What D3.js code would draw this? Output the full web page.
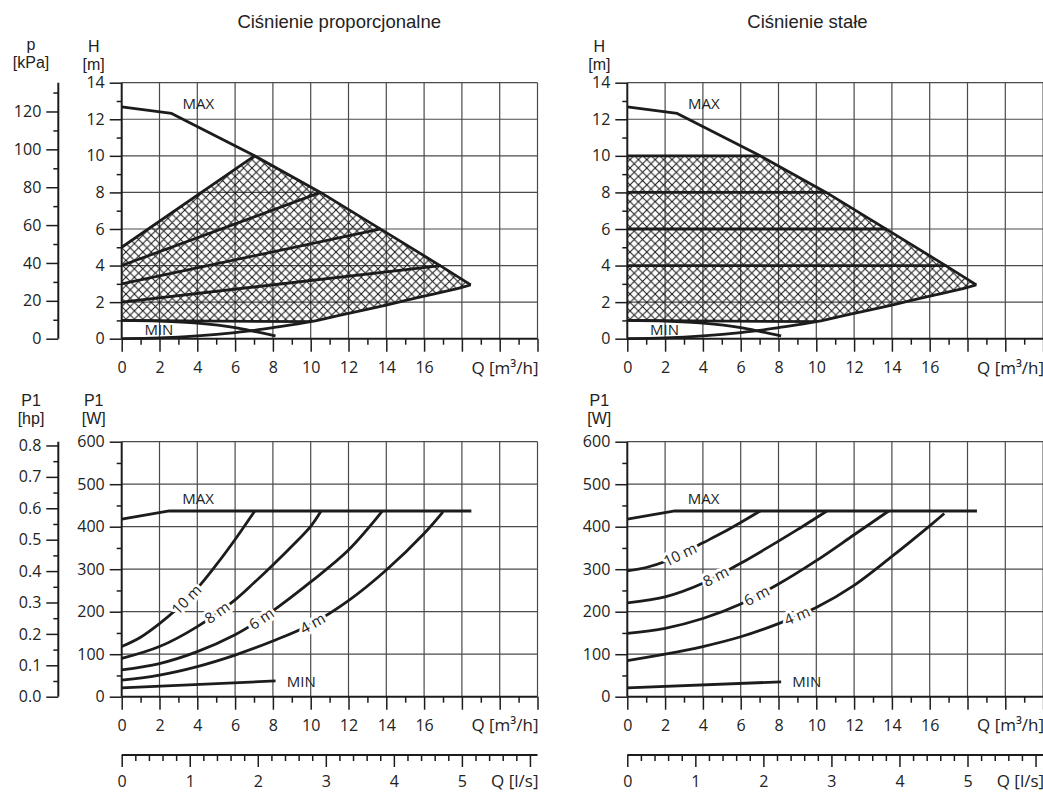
<!DOCTYPE html>
<html><head><meta charset="utf-8">
<script src="https://cdn.jsdelivr.net/npm/d3@7"></script>
<style>
body{margin:0;background:#fff;}
svg{display:block;}
</style></head><body>
<svg id="c" width="1043" height="792"></svg>
<script>
// ---------------- data ----------------
const titles = ["Ciśnienie proporcjonalne", "Ciśnienie stałe"];
const qMax = 22, hMax = 14, pMax = 600, kPaMax = 135.2, hpMax = 0.812, m3hPerLs = 3.6;
const qTicks = [0, 2, 4, 6, 8, 10, 12, 14, 16, 18, 20, 22];
const qLabelMax = 16;
const hTicks = [0, 2, 4, 6, 8, 10, 12, 14];
const pTicks = [0, 100, 200, 300, 400, 500, 600];
const kPaTicks = [0, 20, 40, 60, 80, 100, 120];
const hpTicks = [0, 0.1, 0.2, 0.3, 0.4, 0.5, 0.6, 0.7, 0.8];
const lsTicks = [0, 1, 2, 3, 4, 5, 6];
const lsLabelMax = 5;

const maxH = [[0,12.68],[2.64,12.32],[7.03,10.0],[10.52,8.0],[13.72,5.98],[16.89,3.97],[18.47,2.94]];
const systemH = [[0,0],[2,0.04],[4,0.15],[6,0.33],[7,0.45],[8,0.6],[10,0.93],[12,1.39],[14,1.84],[16,2.33],[18,2.81],[18.47,2.94]];
const minH = [[0,1.0],[2,0.96],[4,0.85],[6,0.6],[7,0.4],[8.14,0.15]];
const floorH = [[0,1.0],[10,0.93]];
const propLines = [[[0,5],[7.03,10]], [[0,4],[10.52,8]], [[0,3],[13.72,6]], [[0,2],[16.89,4]]];
const constLines = [[[0,10],[7.03,10]], [[0,8],[10.52,8]], [[0,6],[13.72,6]], [[0,4],[16.89,4]]];

const maxP = [[0,418],[2.52,437],[18.5,437]];
const minPprop = [[0,21],[8.14,37]];
const minPconst = [[0,21],[8.14,35]];
const curveNames = ["10 m", "8 m", "6 m", "4 m"];
const propP = [
  [[0,118],[1,140],[2,172],[3,210],[4,255],[5,310],[6,370],[7.04,437]],
  [[0,90],[2,118],[4,165],[6,228],[7,268],[8,310],[9,354],[10,401],[10.55,437]],
  [[0,63],[2,78],[4,106],[6,146],[7,172],[8,202],[10,270],[12,345],[13.8,437]],
  [[0,39],[2,51],[4,71],[6,98],[8,131],[10,170],[12,226],[14,298],[16,384],[17,435]]
];
const constP = [
  [[0,296],[1,304],[2,318],[3,339],[4,362],[5,385],[6,410],[7.03,437]],
  [[0,221],[2,235],[4,267],[6,314],[8,366],[9,393],[10.56,437]],
  [[0,149],[2,161],[4,184],[6,218],[8,265],[10,320],[12,381],[13.83,437]],
  [[0,85],[2,100],[4,118],[6,141],[8,172],[10,210],[12,262],[14,330],[16,402],[16.77,431]]
];
const propLabelQ = [3.42, 5.05, 7.39, 10.1];
const constLabelQ = [2.79, 4.68, 6.84, 8.98];
const maxLabelH = [4.05, 12.87], minLabelH = [1.97, 0.48];
const maxLabelP = [4.04, 467], minLabelP = [9.5, 35];

// ---------------- layout ----------------
const FONT = "'Open Sans', 'Noto Sans', sans-serif";
const UNIT_FONT = "'Liberation Sans', Arial, sans-serif";
const INK = "#1c1c1c";
const X0 = [121.7, 627.3], QPX = 18.9;
const TOP = {y0: 338.7, y1: 82.7}, BOT = {y0: 696.7, y1: 441.7};
const LS_Y = 755, SIDE_X = 58.3;

const svg = d3.select("#c");
svg.append("rect").attr("width", 1043).attr("height", 792).attr("fill", "#fff");

const defs = svg.append("defs");
const pat = defs.append("pattern").attr("id", "hatch").attr("patternUnits", "userSpaceOnUse")
  .attr("width", 8.4).attr("height", 8.4);
pat.append("path").attr("d", "M-1,-1L9.4,9.4M9.4,-1L-1,9.4")
  .attr("stroke", "#151515").attr("stroke-width", 1.0).attr("fill", "none");

function styleAxis(g, lw) {
  g.attr("font-family", FONT).attr("font-size", 16);
  g.select(".domain").remove();
  g.selectAll(".tick line").attr("stroke", INK).attr("stroke-width", lw || 1.5);
  g.selectAll(".tick text").attr("fill", "#222");
}

function interp(pts, q) {
  for (let i = 0; i < pts.length - 1; i++) {
    if (q >= pts[i][0] && q <= pts[i+1][0]) {
      const t = (q - pts[i][0]) / (pts[i+1][0] - pts[i][0]);
      return pts[i][1] + t * (pts[i+1][1] - pts[i][1]);
    }
  }
  return pts[pts.length - 1][1];
}

function drawFrame(g, x, y, yTicksMajor, xy0, xy1) {
  const grid = g.append("g").attr("stroke", "#4a4a4a").attr("stroke-width", 1.2);
  d3.range(2, qMax + 1, 2).forEach(q => {
    grid.append("line").attr("x1", x(q)).attr("x2", x(q)).attr("y1", xy0).attr("y2", xy1);
  });
  yTicksMajor.filter(v => v > 0).forEach(v => {
    grid.append("line").attr("x1", x(0)).attr("x2", x(qMax)).attr("y1", y(v)).attr("y2", y(v));
  });
}

function drawAxes(g, x, y, yTicksMajor, yMinor, y0, labelBase) {
  const gl = g.append("g").attr("transform", `translate(${x(0)},0)`)
    .call(d3.axisLeft(y).tickValues(yTicksMajor).tickSize(12).tickPadding(5));
  styleAxis(gl);
  const glm = g.append("g").attr("transform", `translate(${x(0)},0)`)
    .call(d3.axisLeft(y).tickValues(yMinor).tickSize(5).tickFormat(""));
  styleAxis(glm);
  const gb = g.append("g").attr("transform", `translate(0,${y0})`)
    .call(d3.axisBottom(x).tickValues(qTicks).tickSize(13).tickPadding(10)
      .tickFormat(d => d <= qLabelMax ? d : ""));
  styleAxis(gb);
  const gbm = g.append("g").attr("transform", `translate(0,${y0})`)
    .call(d3.axisBottom(x).tickValues(d3.range(1, qMax, 2)).tickSize(6).tickFormat(""));
  styleAxis(gbm);
  g.append("line").attr("x1", x(0)).attr("x2", x(0)).attr("y1", y.range()[1]).attr("y2", y0)
    .attr("stroke", INK).attr("stroke-width", 2);
  g.append("line").attr("x1", x(0)).attr("x2", x(qMax)).attr("y1", y0).attr("y2", y0)
    .attr("stroke", INK).attr("stroke-width", 2);
  g.append("text").attr("x", x(qMax) + 1).attr("y", labelBase).attr("text-anchor", "end")
    .attr("font-family", FONT).attr("font-size", 17).attr("fill", "#222").text("Q [m³/h]");
}

function text(g, x, y, s, opts) {
  opts = opts || {};
  return g.append("text").attr("x", x).attr("y", y)
    .attr("text-anchor", opts.anchor || "middle")
    .attr("font-family", opts.font || FONT).attr("font-size", opts.size || 16)
    .attr("fill", "#222").text(s);
}

function unitLabel(g, x, y, l1, l2) {
  text(g, x, y, l1, {font: UNIT_FONT, size: 16});
  text(g, x, y + 18.2, l2, {font: UNIT_FONT, size: 16});
}

function curveLabel(g, x, y, pts, q, s) {
  const px = x(q), py = y(interp(pts, q));
  const dx = x(q + 0.4) - x(q - 0.4), dy = y(interp(pts, q + 0.4)) - y(interp(pts, q - 0.4));
  const ang = Math.atan2(dy, dx) * 180 / Math.PI;
  g.append("text").attr("transform", `translate(${px},${py}) rotate(${ang})`)
    .attr("text-anchor", "middle").attr("dy", "0.36em")
    .attr("font-family", FONT).attr("font-size", 15).attr("fill", "#222")
    .attr("stroke", "#fff").attr("stroke-width", 6).attr("paint-order", "stroke")
    .attr("stroke-linejoin", "round").text(s);
}

for (let p = 0; p < 2; p++) {
  const x = d3.scaleLinear([0, qMax], [X0[p], X0[p] + qMax * QPX]);
  const yH = d3.scaleLinear([0, hMax], [TOP.y0, TOP.y1]);
  const yP = d3.scaleLinear([0, pMax], [BOT.y0, BOT.y1]);
  const g = svg.append("g");

  text(g, p === 0 ? 339.2 : 807.5, 28, titles[p], {font: UNIT_FONT, size: 18.5});

  // ---------- top chart ----------
  drawFrame(g, x, yH, hTicks, TOP.y0, TOP.y1);
  const lineH = d3.line().x(d => x(d[0])).y(d => yH(d[1]));
  const lineHs = d3.line().x(d => x(d[0])).y(d => yH(d[1])).curve(d3.curveMonotoneX);
  const topY = p === 0 ? 5 : 10;
  const poly = [[0, floorH[0][1]], [0, topY]]
    .concat(maxH.filter(d => d[0] >= 7.03))
    .concat(systemH.filter(d => d[0] >= 10).slice().reverse())
    .concat([[0, floorH[0][1]]]);
  g.append("path").attr("d", lineH(poly) + "Z").attr("fill", "url(#hatch)");

  const curves = g.append("g").attr("fill", "none").attr("stroke", INK)
    .attr("stroke-width", 2.8).attr("stroke-linejoin", "round");
  curves.append("path").attr("d", lineH(maxH));
  curves.append("path").attr("d", lineHs(systemH));
  curves.append("path").attr("d", lineHs(minH));
  curves.append("path").attr("d", lineH(floorH));
  (p === 0 ? propLines : constLines).forEach(l => curves.append("path").attr("d", lineH(l)));

  drawAxes(g, x, yH, hTicks, d3.range(1, hMax, 2), TOP.y0, TOP.y0 + 35);
  text(g, x(maxLabelH[0]), yH(maxLabelH[1]) + 5.4, "MAX", {size: 15});
  text(g, x(minLabelH[0]), yH(minLabelH[1]) + 5.4, "MIN", {size: 15});
  unitLabel(g, X0[p] - 28, 52, "H", "[m]");

  // ---------- bottom chart ----------
  drawFrame(g, x, yP, pTicks, BOT.y0, BOT.y1);
  const lineP = d3.line().x(d => x(d[0])).y(d => yP(d[1]));
  const linePs = d3.line().x(d => x(d[0])).y(d => yP(d[1])).curve(d3.curveCatmullRom.alpha(0.5));
  const pc = g.append("g").attr("fill", "none").attr("stroke", INK)
    .attr("stroke-width", 2.8).attr("stroke-linejoin", "round");
  pc.append("path").attr("d", lineP(maxP));
  pc.append("path").attr("d", lineP(p === 0 ? minPprop : minPconst));
  const sets = p === 0 ? propP : constP;
  sets.forEach(s => pc.append("path").attr("d", linePs(s)));
  const lq = p === 0 ? propLabelQ : constLabelQ;
  sets.forEach((s, i) => curveLabel(g, x, yP, s, lq[i], curveNames[i]));

  drawAxes(g, x, yP, pTicks, d3.range(50, pMax, 100), BOT.y0, BOT.y0 + 34);
  text(g, x(maxLabelP[0]), yP(maxLabelP[1]) + 5.4, "MAX", {size: 15});
  text(g, x(minLabelP[0]), yP(minLabelP[1]) + 5.4, "MIN", {size: 15});
  unitLabel(g, X0[p] - 28, 406, "P1", "[W]");

  // ---------- l/s axis ----------
  const ls = d3.scaleLinear([0, qMax / m3hPerLs], [x(0), x(qMax)]);
  const ga = g.append("g").attr("transform", `translate(0,${LS_Y})`)
    .call(d3.axisBottom(ls).tickValues(lsTicks).tickSize(12).tickPadding(9)
      .tickFormat(d => d <= lsLabelMax ? d : ""));
  styleAxis(ga);
  const minorLs = d3.range(1, Math.floor(qMax / m3hPerLs * 5) + 1).filter(i => i % 5 !== 0).map(i => i / 5);
  const gam = g.append("g").attr("transform", `translate(0,${LS_Y})`)
    .call(d3.axisBottom(ls).tickValues(minorLs).tickSize(6).tickFormat(""));
  styleAxis(gam);
  g.append("line").attr("x1", x(0)).attr("x2", x(qMax)).attr("y1", LS_Y).attr("y2", LS_Y)
    .attr("stroke", INK).attr("stroke-width", 2);
  text(g, x(qMax) + 1, LS_Y + 32, "Q [l/s]", {anchor: "end", size: 17});
}

// ---------- side axes (kPa, hp) ----------
const kPa = d3.scaleLinear([0, kPaMax], [TOP.y0, TOP.y1]);
const gk = svg.append("g").attr("transform", `translate(${SIDE_X},0)`)
  .call(d3.axisLeft(kPa).tickValues(kPaTicks).tickSize(12).tickPadding(5));
styleAxis(gk);
const gkm = svg.append("g").attr("transform", `translate(${SIDE_X},0)`)
  .call(d3.axisLeft(kPa).tickValues(d3.range(10, kPaMax, 20)).tickSize(5).tickFormat(""));
styleAxis(gkm);
svg.append("line").attr("x1", SIDE_X).attr("x2", SIDE_X).attr("y1", TOP.y1).attr("y2", TOP.y0)
  .attr("stroke", INK).attr("stroke-width", 2);
unitLabel(svg, 31, 50, "p", "[kPa]");

const hp = d3.scaleLinear([0, hpMax], [BOT.y0, BOT.y1]);
const gh = svg.append("g").attr("transform", `translate(${SIDE_X},0)`)
  .call(d3.axisLeft(hp).tickValues(hpTicks).tickSize(12).tickPadding(5).tickFormat(d3.format(".1f")));
styleAxis(gh);
const ghm = svg.append("g").attr("transform", `translate(${SIDE_X},0)`)
  .call(d3.axisLeft(hp).tickValues(d3.range(0.05, 0.8, 0.1)).tickSize(5).tickFormat(""));
styleAxis(ghm);
svg.append("line").attr("x1", SIDE_X).attr("x2", SIDE_X).attr("y1", BOT.y1).attr("y2", BOT.y0)
  .attr("stroke", INK).attr("stroke-width", 2);
unitLabel(svg, 31, 406, "P1", "[hp]");
</script>
</body></html>
